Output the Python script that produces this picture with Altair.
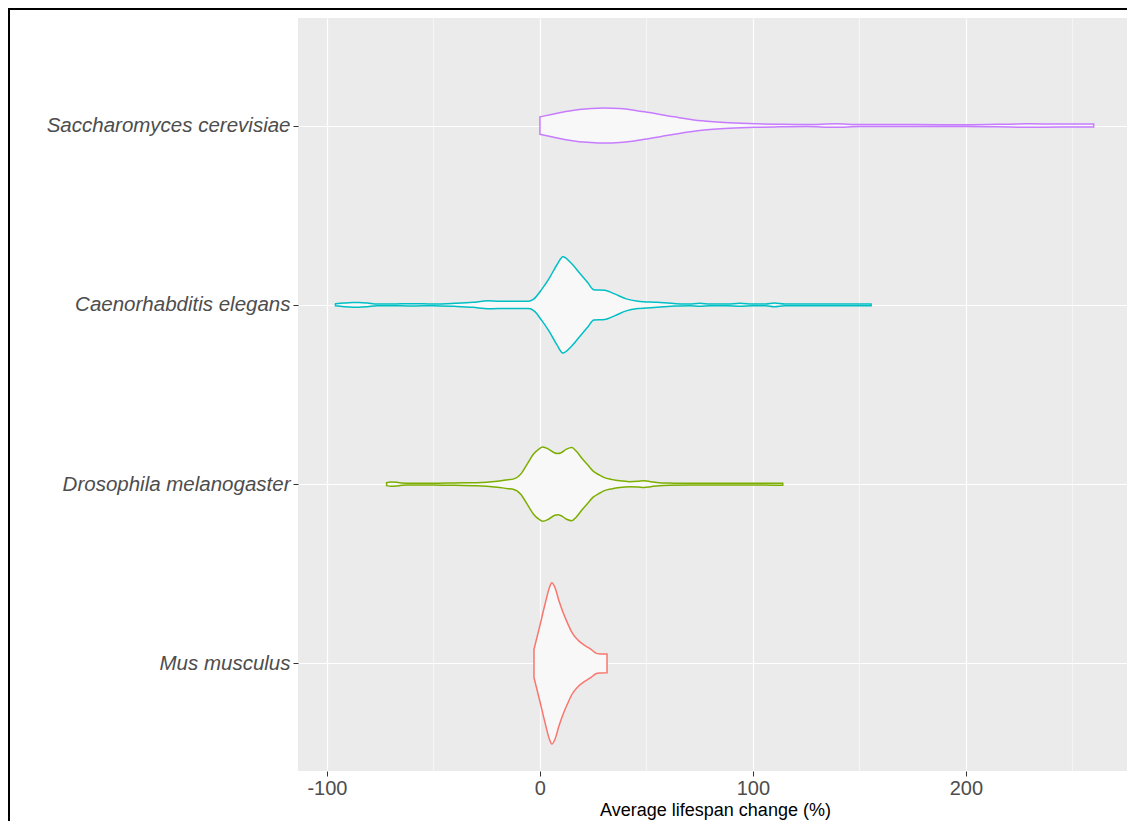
import altair as alt
import pandas as pd

# ---- data ----
species = ["Mus musculus", "Drosophila melanogaster", "Caenorhabditis elegans", "Saccharomyces cerevisiae"]
colors = ["#F8766D", "#7CAE00", "#00BFC4", "#C77CFF"]

# violin outlines: value (x) and relative density width at that value
mouse_x = [-2.8, 0, 2.5, 4.5, 5.6, 7, 9, 11, 13, 15, 18, 21, 24, 26.5, 28, 31.5]
mouse_w = [14, 38, 60, 76, 80.5, 76, 62, 50, 40, 31, 23, 18, 14, 10, 9.5, 9.3]

fly_x = [-72, -70, -66, -62, -50, -40, -30, -25, -20, -15, -12.6, -9, -6, -3, -0.5, 1.3, 4, 7, 8.5, 10,
         12.5, 15, 17, 20, 22.5, 25, 28, 30, 34, 37.5, 42, 46, 49, 52, 56, 62, 70, 80, 90, 100, 110, 114]
fly_w = [1.5, 2.2, 1.5, 0.8, 0.8, 1.2, 1.5, 2, 3, 4.5, 5, 10, 20, 30, 35, 37, 35, 31, 30.5, 31.5,
         35, 36.5, 33, 25, 19, 13, 9, 6.7, 4.5, 3.3, 2.5, 2.8, 3.3, 2.5, 1.5, 1, 0.8, 0.8, 0.8, 0.8, 1, 1]

worm_x = [-96, -92, -88, -85, -81, -76.5, -70, -60, -50, -40, -31.5, -24.4, -19.7, -12, -5.2, -2.8, 1, 4.5,
          8, 10.8, 14.5, 18.9, 22.5, 25.3, 30.5, 35, 40.5, 46, 55, 64, 70, 75, 80, 88, 94, 100, 106, 110,
          115, 130, 145, 155.5]
worm_w = [1, 1.8, 2.3, 2.3, 1.8, 0.8, 0.8, 1.2, 0.8, 1.5, 2.5, 4, 3.7, 3.7, 3.7, 6, 16, 27,
          40, 48, 42, 31, 22, 15, 14.5, 11, 6, 3.7, 2.5, 1.2, 0.8, 1.5, 0.8, 0.8, 1.5, 0.8, 0.8, 1.8,
          0.8, 0.8, 0.8, 0.8]

yeast_x = [0, 6, 13, 24, 30, 37.5, 49, 63, 76, 89, 101.5, 112, 125, 139, 150, 175, 200, 229, 245, 260]
yeast_w = [8.7, 11.3, 14.3, 17, 17.5, 17, 13.7, 8.7, 4.7, 2.7, 1.7, 1.3, 1, 1.7, 1, 1, 0.9, 1.7, 1.5, 1.5]

x_ticks = [-100, 0, 100, 200]
x_minor = [-50, 50, 150, 250]

# ---- build table ----
outlines = [(mouse_x, mouse_w), (fly_x, fly_w), (worm_x, worm_w), (yeast_x, yeast_w)]
wmax = max(max(w) for _, w in outlines)
rows = []
for i, (xs, ws) in enumerate(outlines):
    for xv, wv in zip(xs, ws):
        hw = 0.45 * wv / wmax
        rows.append({"species": species[i], "value": xv, "lo": i - hw, "hi": i + hw})
df = pd.DataFrame(rows)

label_expr = " : ".join(
    f"datum.value == {i} ? '{s}'" for i, s in enumerate(species)
) + " : ''"

FONT = "Liberation Sans"
xscale = alt.Scale(domain=[-113.6, 278], nice=False, zero=False)
yscale = alt.Scale(domain=[-0.6, 3.6], nice=False, zero=False)

minor = alt.Chart(pd.DataFrame({"m": x_minor})).mark_rule(
    color="white", strokeWidth=0.6
).encode(x=alt.X("m:Q", scale=xscale))

violins = alt.Chart(df).mark_area(
    fill="#F8F8F8", strokeWidth=1.5, interpolate="monotone", orient="vertical"
).encode(
    x=alt.X("value:Q", scale=xscale,
            axis=alt.Axis(values=x_ticks, title="Average lifespan change (%)", grid=True,
                          labelExpr="'' + datum.value",
                          gridColor="white", gridWidth=1.2, tickColor="#333333", tickSize=5,
                          labelFontSize=20, labelColor="#4D4D4D", labelPadding=2,
                          titleFontSize=18, titleFontWeight="normal", titleColor="black",
                          titlePadding=3, domain=False, labelFont=FONT, titleFont=FONT)),
    y=alt.Y("lo:Q", scale=yscale,
            axis=alt.Axis(values=[0, 1, 2, 3], labelExpr=label_expr, title=None, grid=True,
                          gridColor="white", gridWidth=1.2, tickColor="#333333", tickSize=5,
                          labelFontSize=20.5, labelFontStyle="italic", labelColor="#4D4D4D",
                          labelPadding=3, labelLimit=0, domain=False, labelFont=FONT)),
    y2="hi:Q",
    stroke=alt.Stroke("species:N", scale=alt.Scale(domain=species, range=colors), legend=None),
    detail="species:N",
)

frame_top = alt.Chart(alt.Data(values=[{"f": 1}])).mark_rule(
    color="black", strokeWidth=2
).encode(x=alt.value(-290), x2=alt.value(1000), y=alt.value(-9))

frame_left = alt.Chart(alt.Data(values=[{"f": 1}])).mark_rule(
    color="black", strokeWidth=2
).encode(x=alt.value(-289), y=alt.value(-10), y2=alt.value(1000))

chart = alt.layer(minor, violins, frame_top, frame_left).properties(
    width=834, height=753,
    autosize=alt.AutoSizeParams(type="none"),
    padding={"left": 290, "top": 10, "right": -5, "bottom": 50},
    background="white",
).configure_view(fill="#EBEBEB", stroke=None)

chart.save("out.html", embed_options={"renderer": "svg", "actions": False})
